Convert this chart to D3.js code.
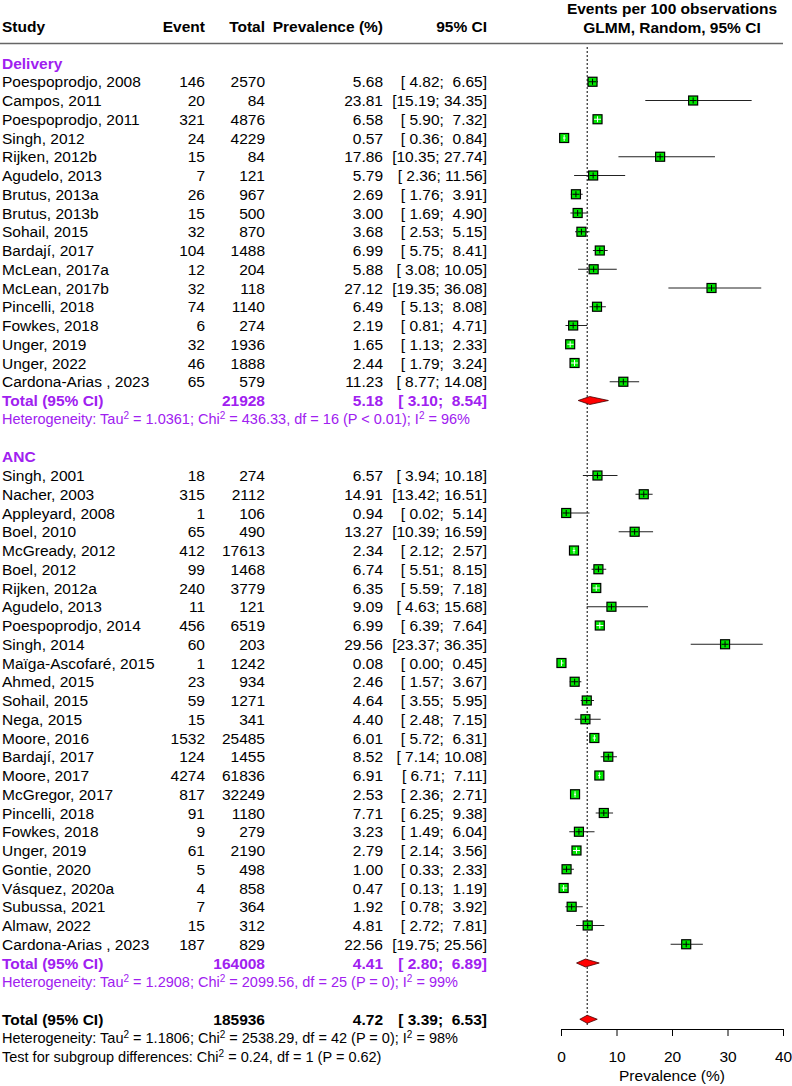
<!DOCTYPE html>
<html>
<head>
<meta charset="utf-8">
<script src="https://cdn.jsdelivr.net/npm/d3@7"></script>
<style>
body { margin: 0; background: #fff; }
text { font-family: "Liberation Sans", Arial, sans-serif; white-space: pre; }
</style>
</head>
<body>
<script>
// Delivery subgroup
var deliveryStudies = ["Poespoprodjo, 2008", "Campos, 2011", "Poespoprodjo, 2011", "Singh, 2012", "Rijken, 2012b",
  "Agudelo, 2013", "Brutus, 2013a", "Brutus, 2013b", "Sohail, 2015", "Bardají, 2017", "McLean, 2017a",
  "McLean, 2017b", "Pincelli, 2018", "Fowkes, 2018", "Unger, 2019", "Unger, 2022", "Cardona-Arias , 2023"];
var deliveryEvents = [146, 20, 321, 24, 15, 7, 26, 15, 32, 104, 12, 32, 74, 6, 32, 46, 65];
var deliveryTotals = [2570, 84, 4876, 4229, 84, 121, 967, 500, 870, 1488, 204, 118, 1140, 274, 1936, 1888, 579];
var deliveryPrev = [5.68, 23.81, 6.58, 0.57, 17.86, 5.79, 2.69, 3.00, 3.68, 6.99, 5.88, 27.12, 6.49, 2.19, 1.65, 2.44, 11.23];
var deliveryLower = [4.82, 15.19, 5.90, 0.36, 10.35, 2.36, 1.76, 1.69, 2.53, 5.75, 3.08, 19.35, 5.13, 0.81, 1.13, 1.79, 8.77];
var deliveryUpper = [6.65, 34.35, 7.32, 0.84, 27.74, 11.56, 3.91, 4.90, 5.15, 8.41, 10.05, 36.08, 8.08, 4.71, 2.33, 3.24, 14.08];

// ANC subgroup
var ancStudies = ["Singh, 2001", "Nacher, 2003", "Appleyard, 2008", "Boel, 2010", "McGready, 2012", "Boel, 2012",
  "Rijken, 2012a", "Agudelo, 2013", "Poespoprodjo, 2014", "Singh, 2014", "Maïga-Ascofaré, 2015", "Ahmed, 2015",
  "Sohail, 2015", "Nega, 2015", "Moore, 2016", "Bardají, 2017", "Moore, 2017", "McGregor, 2017", "Pincelli, 2018",
  "Fowkes, 2018", "Unger, 2019", "Gontie, 2020", "Vásquez, 2020a", "Subussa, 2021", "Almaw, 2022", "Cardona-Arias , 2023"];
var ancEvents = [18, 315, 1, 65, 412, 99, 240, 11, 456, 60, 1, 23, 59, 15, 1532, 124, 4274, 817, 91, 9, 61, 5, 4, 7, 15, 187];
var ancTotals = [274, 2112, 106, 490, 17613, 1468, 3779, 121, 6519, 203, 1242, 934, 1271, 341, 25485, 1455, 61836, 32249, 1180, 279, 2190, 498, 858, 364, 312, 829];
var ancPrev = [6.57, 14.91, 0.94, 13.27, 2.34, 6.74, 6.35, 9.09, 6.99, 29.56, 0.08, 2.46, 4.64, 4.40, 6.01, 8.52, 6.91, 2.53, 7.71, 3.23, 2.79, 1.00, 0.47, 1.92, 4.81, 22.56];
var ancLower = [3.94, 13.42, 0.02, 10.39, 2.12, 5.51, 5.59, 4.63, 6.39, 23.37, 0.00, 1.57, 3.55, 2.48, 5.72, 7.14, 6.71, 2.36, 6.25, 1.49, 2.14, 0.33, 0.13, 0.78, 2.72, 19.75];
var ancUpper = [10.18, 16.51, 5.14, 16.59, 2.57, 8.15, 7.18, 15.68, 7.64, 36.35, 0.45, 3.67, 5.95, 7.15, 6.31, 10.08, 7.11, 2.71, 9.38, 6.04, 3.56, 2.33, 1.19, 3.92, 7.81, 25.56];

// pooled estimates: [total N, prevalence, lower, upper]
var deliveryPooled = [21928, 5.18, 3.10, 8.54];
var ancPooled = [164008, 4.41, 2.80, 6.89];
var overallPooled = [185936, 4.72, 3.39, 6.53];

// heterogeneity: [tau2, chi2, df, p, i2]
var deliveryHet = ["1.0361", "436.33", "16", "P < 0.01", "96%"];
var ancHet = ["1.2908", "2099.56", "25", "P = 0", "99%"];
var overallHet = ["1.1806", "2538.29", "42", "P = 0", "98%"];
var subgroupTest = ["0.24", "1", "P = 0.62"];

var xTicks = [0, 10, 20, 30, 40];

var width = 792, height = 1086;
var purple = "#a020f0";
var fs = 15.5;
var fsSmall = 14.5;

var svg = d3.select("body").append("svg")
  .attr("width", width)
  .attr("height", height);

var x = d3.scaleLinear().domain([0, 40]).range([561, 783]);
var rowY = function(i) { return 63 + i * 18.75; };

var col = { study: 2, event: 205, total: 265, prev: 383, ci: 487 };

function fmtCI(lo, hi) {
  return "[" + lo.toFixed(2).padStart(5, " ") + "; " + hi.toFixed(2).padStart(5, " ") + "]";
}

// build row layout
var rows = [];
function addGroup(name, studies, ev, tot, prev, lo, hi, pooled, het) {
  rows.push({ type: "header", label: name });
  studies.forEach(function(s, i) {
    rows.push({ type: "study", label: s, event: ev[i], total: tot[i], prev: prev[i], lo: lo[i], hi: hi[i] });
  });
  rows.push({ type: "pooled", label: "Total (95% CI)", total: pooled[0], prev: pooled[1], lo: pooled[2], hi: pooled[3], color: purple });
  rows.push({ type: "het", het: het, color: purple });
  rows.push({ type: "blank" });
}
addGroup("Delivery", deliveryStudies, deliveryEvents, deliveryTotals, deliveryPrev, deliveryLower, deliveryUpper, deliveryPooled, deliveryHet);
addGroup("ANC", ancStudies, ancEvents, ancTotals, ancPrev, ancLower, ancUpper, ancPooled, ancHet);
rows.push({ type: "pooled", label: "Total (95% CI)", total: overallPooled[0], prev: overallPooled[1], lo: overallPooled[2], hi: overallPooled[3], color: "#000" });
rows.push({ type: "het", het: overallHet, color: "#000" });
rows.push({ type: "test" });

rows.forEach(function(r, i) { r.y = rowY(i); });

// column headers
var head = svg.append("g").attr("font-weight", "bold").attr("font-size", fs);
[["Study", col.study, "start"], ["Event", col.event, "end"], ["Total", col.total, "end"],
 ["Prevalence (%)", col.prev, "end"], ["95% CI", col.ci, "end"]].forEach(function(h) {
  head.append("text").attr("x", h[1]).attr("y", 26).attr("dy", "0.36em")
    .attr("text-anchor", h[2]).text(h[0]);
});
head.append("text").attr("x", x(20)).attr("y", 8).attr("dy", "0.36em")
  .attr("text-anchor", "middle").text("Events per 100 observations");
head.append("text").attr("x", x(20)).attr("y", 27).attr("dy", "0.36em")
  .attr("text-anchor", "middle").text("GLMM, Random, 95% CI");

svg.append("line").attr("x1", 0).attr("x2", 783).attr("y1", 43.5).attr("y2", 43.5)
  .attr("stroke", "#666").attr("stroke-width", 1.5);

// reference line at overall estimate
svg.append("line")
  .attr("x1", x(overallPooled[1])).attr("x2", x(overallPooled[1]))
  .attr("y1", 47).attr("y2", rows[rows.length - 3].y + 6)
  .attr("stroke", "#000").attr("stroke-width", 1).attr("stroke-dasharray", "2,2");

var txt = svg.append("g").attr("font-size", fs);

function sup(t, s) {
  t.append("tspan").attr("font-size", 10).attr("dy", -5).text(s);
}

rows.forEach(function(r) {
  if (r.type === "header") {
    txt.append("text").attr("x", col.study).attr("y", r.y).attr("dy", "0.36em")
      .attr("font-weight", "bold").attr("fill", purple).text(r.label);
  } else if (r.type === "study" || r.type === "pooled") {
    var bold = r.type === "pooled" ? "bold" : "normal";
    var fill = r.type === "pooled" ? r.color : "#000";
    var g = txt.append("g").attr("font-weight", bold).attr("fill", fill);
    g.append("text").attr("x", col.study).attr("y", r.y).attr("dy", "0.36em").text(r.label);
    if (r.event !== undefined)
      g.append("text").attr("x", col.event).attr("y", r.y).attr("dy", "0.36em").attr("text-anchor", "end").text(r.event);
    g.append("text").attr("x", col.total).attr("y", r.y).attr("dy", "0.36em").attr("text-anchor", "end").text(r.total);
    g.append("text").attr("x", col.prev).attr("y", r.y).attr("dy", "0.36em").attr("text-anchor", "end").text(r.prev.toFixed(2));
    g.append("text").attr("x", col.ci).attr("y", r.y).attr("dy", "0.36em").attr("text-anchor", "end").text(fmtCI(r.lo, r.hi));
  } else if (r.type === "het") {
    var t = txt.append("text").attr("x", col.study).attr("y", r.y).attr("dy", "0.36em")
      .attr("font-size", fsSmall).attr("fill", r.color);
    t.append("tspan").text("Heterogeneity: Tau");
    sup(t, "2");
    t.append("tspan").attr("dy", 5).text(" = " + r.het[0] + "; Chi");
    sup(t, "2");
    t.append("tspan").attr("dy", 5).text(" = " + r.het[1] + ", df = " + r.het[2] + " (" + r.het[3] + "); I");
    sup(t, "2");
    t.append("tspan").attr("dy", 5).text(" = " + r.het[4]);
  } else if (r.type === "test") {
    var t2 = txt.append("text").attr("x", col.study).attr("y", r.y).attr("dy", "0.36em")
      .attr("font-size", fsSmall).attr("fill", "#000");
    t2.append("tspan").text("Test for subgroup differences: Chi");
    sup(t2, "2");
    t2.append("tspan").attr("dy", 5).text(" = " + subgroupTest[0] + ", df = " + subgroupTest[1] + " (" + subgroupTest[2] + ")");
  }
});

// study markers
var sq = 9;
var plot = svg.append("g");
rows.filter(function(r) { return r.type === "study"; }).forEach(function(r) {
  var cx = x(r.prev);
  var inside = (x(r.hi) - x(r.lo)) < sq;
  plot.append("line").attr("x1", x(r.lo)).attr("x2", x(r.hi)).attr("y1", r.y).attr("y2", r.y)
    .attr("stroke", "#222").attr("stroke-width", 1);
  plot.append("rect").attr("x", cx - sq / 2).attr("y", r.y - sq / 2).attr("width", sq).attr("height", sq)
    .attr("fill", "#00e600").attr("stroke", "#000").attr("stroke-width", 1.2);
  var c = inside ? "#fff" : "#000";
  plot.append("line").attr("x1", Math.max(x(r.lo), cx - sq / 2 + 1)).attr("x2", Math.min(x(r.hi), cx + sq / 2 - 1))
    .attr("y1", r.y).attr("y2", r.y).attr("stroke", c).attr("stroke-width", 1);
  plot.append("line").attr("x1", cx).attr("x2", cx).attr("y1", r.y - sq / 2 + 1.5).attr("y2", r.y + sq / 2 - 1.5)
    .attr("stroke", c).attr("stroke-width", 1);
});

// pooled diamonds
rows.filter(function(r) { return r.type === "pooled"; }).forEach(function(r) {
  var h = 4;
  var pts = [[x(r.lo), r.y], [x(r.prev), r.y - h], [x(r.hi), r.y], [x(r.prev), r.y + h]];
  plot.append("path").attr("d", "M" + pts.join("L") + "Z")
    .attr("fill", "#ff0000").attr("stroke", "#400").attr("stroke-width", 0.8);
});

// axis
var axisY = 1029;
var axis = svg.append("g").attr("transform", "translate(0," + axisY + ")")
  .call(d3.axisBottom(x).tickValues(xTicks).tickSize(7).tickSizeOuter(0).tickPadding(15));
axis.selectAll("text").attr("font-size", fs).attr("fill", "#000")
  .attr("font-family", "Liberation Sans, Arial, sans-serif");
axis.selectAll("line, path").attr("stroke", "#000");

svg.append("text").attr("x", x(20)).attr("y", 1075).attr("dy", "0.36em")
  .attr("text-anchor", "middle").attr("font-size", fs).text("Prevalence (%)");
</script>
</body>
</html>
